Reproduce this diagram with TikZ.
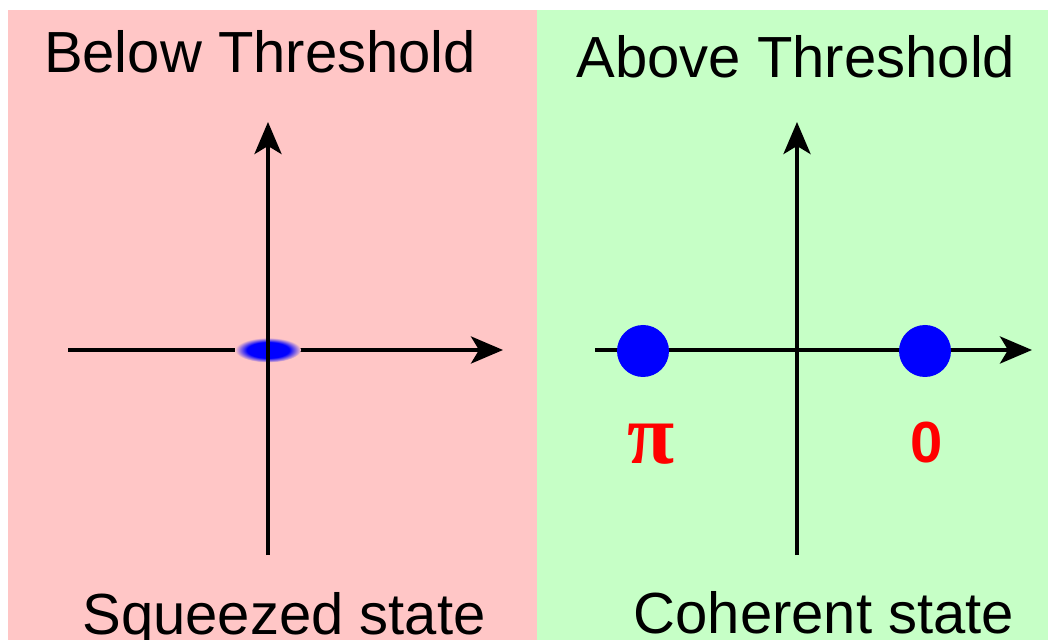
\documentclass[tikz,border=0pt]{standalone}
\usepackage{fontspec}
\setmainfont{Liberation Sans}
\newfontfamily\greekfont{Liberation Serif}
\usepackage{xcolor}
\usepackage{tikz}
\usetikzlibrary{arrows.meta, positioning, calc}

\definecolor{pinkbg}{RGB}{255,198,198}
\definecolor{greenbg}{RGB}{198,255,198}
\definecolor{dotblue}{RGB}{0,0,255}
\definecolor{labelred}{RGB}{255,0,0}
\pgfdeclareradialshading{blob}{\pgfpoint{0bp}{0bp}}{color(0bp)=(dotblue); color(16bp)=(dotblue); color(25bp)=(pinkbg); color(50bp)=(pinkbg)}

\begin{document}
\begin{tikzpicture}[
      x=0.5pt, y=-0.5pt,
      axis/.style={line width=2pt, -{Stealth[length=16pt, width=13.5pt, inset=4pt]}},
      title/.style={anchor=base, inner sep=0pt, font=\fontsize{29}{34}\selectfont},
      phase/.style={anchor=base, inner sep=0pt, text=labelred},
      dot/.style={fill=dotblue}
    ]
      \useasboundingbox (0,0) rectangle (1048,640);
      % backgrounds
      \fill[pinkbg] (8,10) rectangle (537,640);
      \fill[greenbg] (537,10) rectangle (1048,640);

      % below threshold
      \node[title] (below) at (260,73) {Below Threshold};
      \coordinate (lw) at (68,350);
      \coordinate (le) at (503,350);
      \coordinate (ls) at (268,555);
      \coordinate (ln) at (268,122);
      \draw[axis] (lw) -- (le);
      \shade[shading=blob] (268,350) ellipse [x radius=16.5pt, y radius=6.2pt];
      \draw[axis] (ls) -- (ln);
      \node[title] (squeezed) at (284,634) {Squeezed state};

      % above threshold
      \node[title] (above) at (796,78) {Above Threshold};
      \coordinate (rw) at (595,350);
      \coordinate (re) at (1032,350);
      \coordinate (rs) at (797,555);
      \coordinate (rn) at (797,122);
      \draw[axis] (rw) -- (re);
      \draw[axis] (rs) -- (rn);
      \fill[dot] (643,351) circle [radius=13pt];
      \fill[dot] (925,351) circle [radius=13pt];
      \node[phase, font=\greekfont\bfseries\fontsize{43}{48}\selectfont] (pi) at (651,464) {π};
      \node[phase, font=\bfseries\fontsize{29}{34}\selectfont] (zero) at (927,463) {0};
      \node[title] (coherent) at (824,633) {Coherent state};
    \end{tikzpicture}
\end{document}
